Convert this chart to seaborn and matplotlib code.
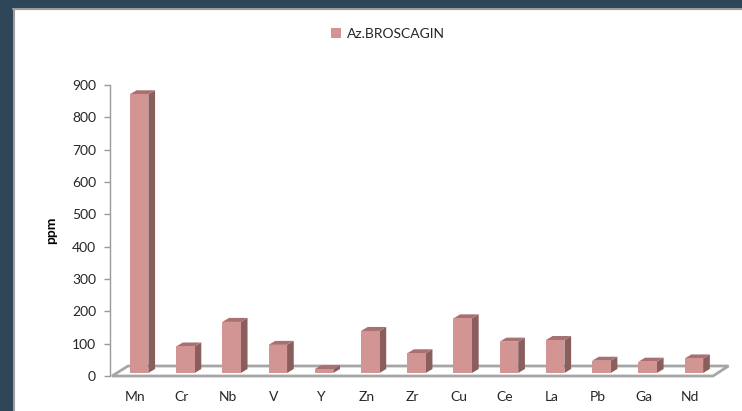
import matplotlib.pyplot as plt
import pandas as pd
import seaborn as sns
from matplotlib.lines import Line2D
from matplotlib.patches import Polygon, Rectangle

elements = ["Mn", "Cr", "Nb", "V", "Y", "Zn", "Zr", "Cu", "Ce", "La", "Pb", "Ga", "Nd"]
ppm = [862, 82, 158, 87, 12, 130, 61, 169, 97, 102, 38, 35, 45]
series = "Az.BROSCAGIN"
yticks = [0, 100, 200, 300, 400, 500, 600, 700, 800, 900]

front_col = "#d39494"
top_col = "#a87070"
side_col = "#8b5e5e"
floor_col = "#a6a6a6"
text_col = "#262626"
bg_col = "#2f4659"

sns.set_theme(style="white")
plt.rcParams["font.family"] = ["Lato", "DejaVu Sans"]

df = pd.DataFrame({"element": elements, "ppm": ppm})

fig = plt.figure(figsize=(7.42, 4.11), dpi=100)
fig.patch.set_facecolor("white")
# dark slide background showing at the left and top
W, H = 742, 411
fig.add_artist(Rectangle((0, 0), 13 / W, 1, transform=fig.transFigure,
                         facecolor=bg_col, edgecolor="none", zorder=0))
fig.add_artist(Rectangle((0, 1 - 8 / H), 1, 8 / H, transform=fig.transFigure,
                         facecolor=bg_col, edgecolor="none", zorder=0))
fig.add_artist(Line2D([13.7 / W, 13.7 / W], [0, 1 - 8.7 / H], transform=fig.transFigure,
                      color="#9c9c9c", linewidth=1.5, zorder=1))
fig.add_artist(Line2D([13 / W, 1], [1 - 8.7 / H, 1 - 8.7 / H], transform=fig.transFigure,
                      color="#9c9c9c", linewidth=1.5, zorder=1))

ax = fig.add_axes([112 / W, 35 / H, 601 / W, 291 / H])
ax.patch.set_alpha(0)

sns.barplot(data=df, x="element", y="ppm", color=front_col, width=0.4, saturation=1,
            ax=ax, label=series, zorder=3)
if ax.get_legend() is not None:
    ax.get_legend().remove()

ax.set_xlim(-0.5, len(elements) - 0.5)
ax.set_ylim(0, 900)
ax.set_yticks(yticks)

# pixel -> data helpers for the fake 3d depth
ux = ax.transData.transform((1, 0))[0] - ax.transData.transform((0, 0))[0]
uy = ax.transData.transform((0, 100))[1] - ax.transData.transform((0, 0))[1]


def dxp(px):
    return px / ux


def dyp(px):
    return px * 100 / uy


# floor
fw, fh = 601, 291
floor = Polygon([(0, 0), (1, 0), (1 + 15.5 / fw, 10 / fh), (16 / fw, 10 / fh)],
                closed=True, transform=ax.transAxes, facecolor="white",
                edgecolor=floor_col, linewidth=2, zorder=1, clip_on=False)

bars = list(ax.patches)
ax.add_patch(floor)
for p in bars:
    x0 = p.get_x() + dxp(4)
    w = p.get_width()
    h = p.get_height()
    y0 = dyp(3)
    p.set_x(x0)
    p.set_y(y0)
    p.set_edgecolor("none")
    p.set_clip_on(False)
    ddx, ddy = dxp(6.7), dyp(4)
    side = Polygon([(x0 + w, y0), (x0 + w + ddx, y0 + ddy), (x0 + w + ddx, y0 + h + ddy), (x0 + w, y0 + h)],
                   closed=True, facecolor=side_col, edgecolor="none", zorder=2, clip_on=False)
    top = Polygon([(x0, y0 + h), (x0 + ddx, y0 + h + ddy), (x0 + w + ddx, y0 + h + ddy), (x0 + w, y0 + h)],
                  closed=True, facecolor=top_col, edgecolor="none", zorder=2, clip_on=False)
    ax.add_patch(side)
    ax.add_patch(top)

for s in ["top", "right", "bottom"]:
    ax.spines[s].set_visible(False)
ax.spines["left"].set_position(("outward", 1.5))
ax.spines["left"].set_color("#9a9a9a")
ax.spines["left"].set_linewidth(1)

ax.tick_params(axis="y", left=True, length=4, width=1, color="#9a9a9a", pad=6,
               labelsize=10, labelcolor=text_col)
ax.tick_params(axis="x", bottom=False, length=0, pad=11, labelsize=10, labelcolor=text_col)

ax.set_xlabel("")
ax.set_ylabel("ppm", fontweight="bold", fontsize=10, color="black")
ax.yaxis.set_label_coords(-55 / 601, 0.5)

handles, labels = ax.get_legend_handles_labels()
fig.legend(handles, labels, loc="center", bbox_to_anchor=(388 / W, 1 - 34 / H),
           frameon=False, fontsize=10, handlelength=0.7, handleheight=0.7,
           handletextpad=0.4, labelcolor=text_col)

fig.savefig("out.png", dpi=100, facecolor=fig.get_facecolor())
